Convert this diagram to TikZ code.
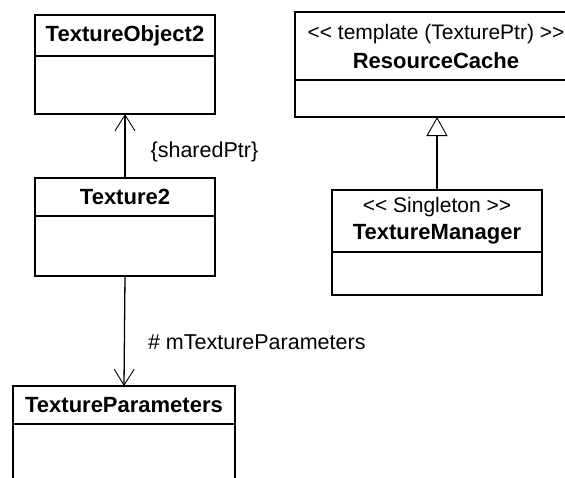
\documentclass[tikz,border=0pt]{standalone}
\usepackage{fontspec}
\setmainfont{Liberation Sans}
\usetikzlibrary{positioning,arrows.meta}
\newcommand{\stereofont}{\fontsize{21}{25}\selectfont\mdseries}
\begin{document}
\begin{tikzpicture}[x=1pt, y=-1pt,
  classhead/.style={draw, line width=1.3pt, outer sep=0pt, align=center,
    font=\fontsize{22}{26}\selectfont\bfseries},
  classbody/.style={draw, line width=1.3pt, outer sep=0pt},
  lbl/.style={inner sep=0pt, font=\fontsize{21.5}{25}\selectfont},
  assoc/.style={line width=1.3pt, -{Straight Barb[length=16pt, width=20pt, line width=0.9pt]}},
  inherit/.style={line width=1.3pt, -{Triangle[open, length=19pt, width=21pt, line width=0.9pt, fill=white]}}]
  \useasboundingbox (0,0) rectangle (565,477);
  \clip (0,0) rectangle (565,477);
  % Classes on the left
  \node[classhead, minimum width=180pt, minimum height=41pt] (obj) at (125,35.5) {TextureObject2};
  \node[classbody, minimum width=180pt, minimum height=58pt, below=0pt of obj] (objb) {};
  \node[classhead, minimum width=180pt, minimum height=38pt] (tex) at (125,197) {Texture2};
  \node[classbody, minimum width=180pt, minimum height=60pt, below=0pt of tex] (texb) {};
  \node[classhead, minimum width=222pt, minimum height=38pt] (par) at (124,405) {TextureParameters};
  \node[classbody, minimum width=222pt, minimum height=70pt, below=0pt of par] (parb) {};
  % Classes on the right
  \node[classhead, minimum width=282pt, minimum height=68pt] (cache) at (436,46)
    {{\stereofont <{}< template (TexturePtr) >{}>}\\[3pt] ResourceCache};
  \node[classbody, minimum width=282pt, minimum height=37pt, below=0pt of cache] (cacheb) {};
  \node[classhead, minimum width=210pt, minimum height=62pt] (mgr) at (437,221)
    {{\stereofont <{}< Singleton >{}>}\\[1pt] TextureManager};
  \node[classbody, minimum width=210pt, minimum height=43pt, below=0pt of mgr] (mgrb) {};
  % Relations
  \draw[assoc] (tex.north) -- (objb.south)
    node[lbl, pos=0.4, right=25pt] (shr) {\{sharedPtr\}};
  \draw[assoc] (texb.south) -- (par.north)
    node[lbl, pos=0.6, right=23pt] (mtp) {\# mTextureParameters};
  \draw[inherit] (mgr.north) -- (mgr.north |- cacheb.south);
\end{tikzpicture}
\end{document}
